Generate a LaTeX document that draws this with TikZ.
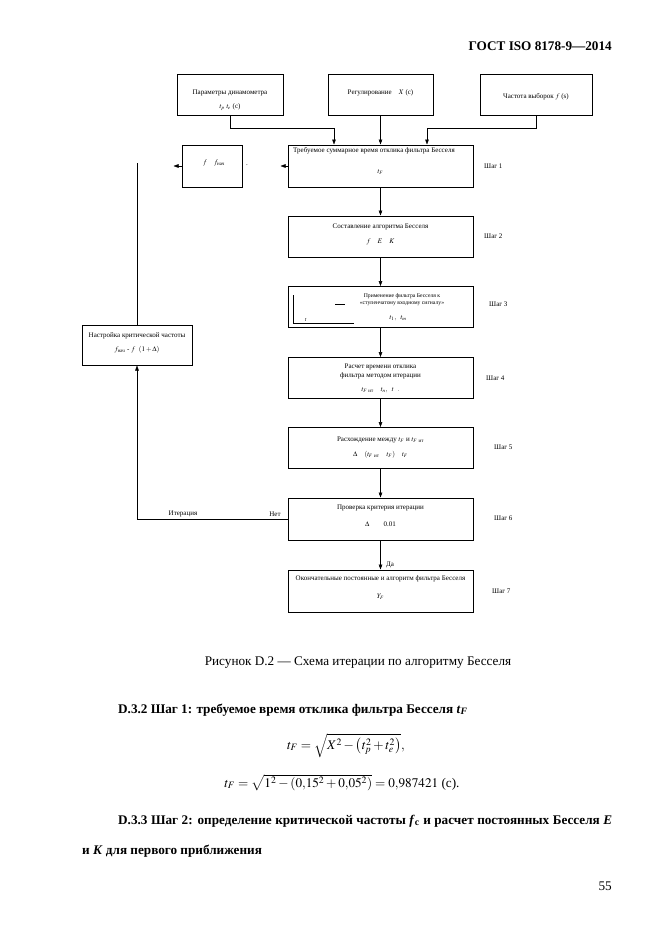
\documentclass[tikz,border=0pt]{standalone}
\usepackage{amsmath}
\usepackage{mathptmx}
\usepackage{fontspec}
\setmainfont{Liberation Serif}
\usetikzlibrary{arrows.meta}
\newcommand\bx{\fontsize{7}{8}\selectfont}
\newcommand\bxs{\fontsize{5.7}{6.5}\selectfont}
\newcommand\bodyf{\fontsize{13.2}{15}\selectfont}
\begin{document}
\begin{tikzpicture}[x=1pt,y=-1pt,
  box/.style={draw, line width=1pt, inner sep=0pt},
  wbox/.style={box, minimum width=185pt, minimum height=41pt},
  conn/.style={line width=0.5pt},
  arr/.style={conn,-{Triangle[length=5pt,width=3.6pt]}},
  txt/.style={inner sep=0pt, font=\bx},
  stxt/.style={inner sep=0pt, font=\bxs},
  body/.style={inner sep=0pt, font=\bodyf, anchor=base west},
]
\useasboundingbox (0,0) rectangle (661,935);
\fill[white] (0,0) rectangle (661,935);

% header
\node[body, anchor=base east] (hdr) at (612,50) {\textbf{ГОСТ ISO 8178-9—2014}};

% top boxes
\node[box, minimum width=106pt, minimum height=41pt] (par) at (230,94.5) {};
\node[box, minimum width=105pt, minimum height=41pt] (reg) at (380.5,94.5) {};
\node[box, minimum width=112pt, minimum height=41pt] (chas) at (536,94.5) {};
\node[txt] (par1) at (230,93) {Параметры динамометра};
\node[txt] (par2) at (230,107) {$t_p\ t_e$ (с)};
\node[txt] (reg1) at (380.5,93) {Регулирование\quad $X$ (с)};
\node[txt] (chas1) at (536,97) {Частота выборок $f$ (s)};

% step boxes
\node[wbox, minimum height=42pt] (treb) at (380.5,166) {};
\node[box, minimum width=60pt, minimum height=42pt] (ff) at (212,166) {};
\node[wbox] (sost) at (380.5,236.5) {};
\node[wbox] (prim) at (380.5,307) {};
\node[wbox] (rasch) at (380.5,378) {};
\node[wbox] (rash) at (380.5,448) {};
\node[wbox, minimum height=42pt] (prov) at (380.5,519) {};
\node[wbox, minimum height=42pt] (okon) at (380.5,591) {};
\node[box, minimum width=110pt, minimum height=40pt] (nastr) at (137,345) {};

% box texts
\node[txt, anchor=west] (treb1) at (293,151) {Требуемое суммарное время отклика фильтра Бесселя};
\node[txt] (treb2) at (380.5,172) {$t_F$};
\node[txt] (ff1) at (214,163) {$f\quad f_{\text{нач}}$};
\node[txt] (ffdot) at (247,165) {.};
\node[txt] (sost1) at (380.5,227) {Составление алгоритма Бесселя};
\node[txt] (sost2) at (380.5,242) {$f\quad E\quad K$};
\node[stxt] (prim1) at (402,296) {Применение фильтра Бесселя к};
\node[stxt] (prim2) at (402,303.5) {«ступенчатому входному сигналу»};
\node[txt] (prim3) at (398,318) {$t_1,\ \ t_m$};
\node[stxt] (primt) at (306,320) {$t$};
\node[txt] (rasch1) at (380.5,367) {Расчет времени отклика};
\node[txt] (rasch2) at (380.5,376) {фильтра методом итерации};
\node[txt] (rasch3) at (380.5,390) {$t_{F\ \text{ит}}\quad t_n,\ \ t\ \ .$};
\node[txt] (rash1) at (380.5,440) {Расхождение между $t_F$ и $t_{F\ \text{ит}}$};
\node[txt] (rash2) at (380.5,455) {$\Delta\quad(t_{F\ \text{ит}}\quad t_F)\quad t_F$};
\node[txt] (prov1) at (380.5,508) {Проверка критерия итерации};
\node[txt] (prov2) at (380.5,524) {$\Delta$\qquad 0.01};
\node[txt] (okon1) at (380.5,579) {Окончательные постоянные и алгоритм фильтра Бесселя};
\node[txt] (okon2) at (380.5,597) {$Y_F$};
\node[txt] (nastr1) at (137,336) {Настройка критической частоты};
\node[txt] (nastr2) at (137,350) {$f_{\text{нач}}$ - $f$\ \ $(1+\Delta)$};

% small step plot in prim
\coordinate (pa) at (293,295);
\coordinate (pb) at (293,323);
\coordinate (pc) at (354,323);
\draw[conn] (pa) -- (pb) -- (pc);
\coordinate (sa) at (335,304);
\coordinate (sb) at (345,304);
\draw[conn] (sa) -- (sb);

% step labels
\node[txt, anchor=west] (s1) at (484,166) {Шаг 1};
\node[txt, anchor=west] (s2) at (484,236) {Шаг 2};
\node[txt, anchor=west] (s3) at (489,304) {Шаг 3};
\node[txt, anchor=west] (s4) at (486,378) {Шаг 4};
\node[txt, anchor=west] (s5) at (494,447) {Шаг 5};
\node[txt, anchor=west] (s6) at (494,518) {Шаг 6};
\node[txt, anchor=west] (s7) at (492,591) {Шаг 7};

% top connectors
\coordinate (j1) at (334,128);
\coordinate (j3) at (427,128);
\draw[conn] (par.south) |- (j1);
\draw[arr] (j1) -- (j1 |- treb.north);
\draw[arr] (reg.south) -- (reg.south |- treb.north);
\draw[conn] (chas.south) |- (j3);
\draw[arr] (j3) -- (j3 |- treb.north);

% left arrows
\draw[arr] (treb.west) -- ++(-7,0);
\draw[arr] (ff.west) -- ++(-8,0);

% main chain
\draw[arr] (treb.south) -- (sost.north);
\draw[arr] (sost.south) -- (prim.north);
\draw[arr] (prim.south) -- (rasch.north);
\draw[arr] (rasch.south) -- (rash.north);
\draw[arr] (rash.south) -- (prov.north);
\draw[arr] (prov.south) -- (okon.north);
\node[txt, anchor=west] (da) at (386,565) {Да};

% loop
\draw[arr] (prov.west) -| (nastr.south);
\node[txt] (iter) at (183,514) {Итерация};
\node[txt] (net) at (275,514) {Нет};
\coordinate (lt) at (137,163);
\draw[conn] (nastr.north) -- (lt);

% caption and text
\node[body, anchor=base] (cap) at (358,665) {Рисунок D.2 — Схема итерации по алгоритму Бесселя};
\node[body] (d32) at (118,713) {\textbf{D.3.2 Шаг 1: требуемое время отклика фильтра Бесселя \textit{t}\textsubscript{\textit{F}}}};
\node[body, anchor=base] (eq1) at (346,749) {$t_F=\sqrt{X^2-\left(t_p^2+t_e^2\right)},$};
\node[body, anchor=base] (eq2) at (342,787) {$t_F=\sqrt{1^2-\left(0{,}15^2+0{,}05^2\right)}=0{,}987421$ (с).};
\node[body] (d33) at (118,824) {\makebox[494pt][s]{\textbf{D.3.3 Шаг 2: определение критической частоты \textit{f}\textsubscript{c} и расчет постоянных Бесселя \textit{E}}}};
\node[body] (d33b) at (82,854) {\textbf{и \textit{K} для первого приближения}};
\node[body, anchor=base east] (pg) at (612,890) {55};
\end{tikzpicture}
\end{document}
